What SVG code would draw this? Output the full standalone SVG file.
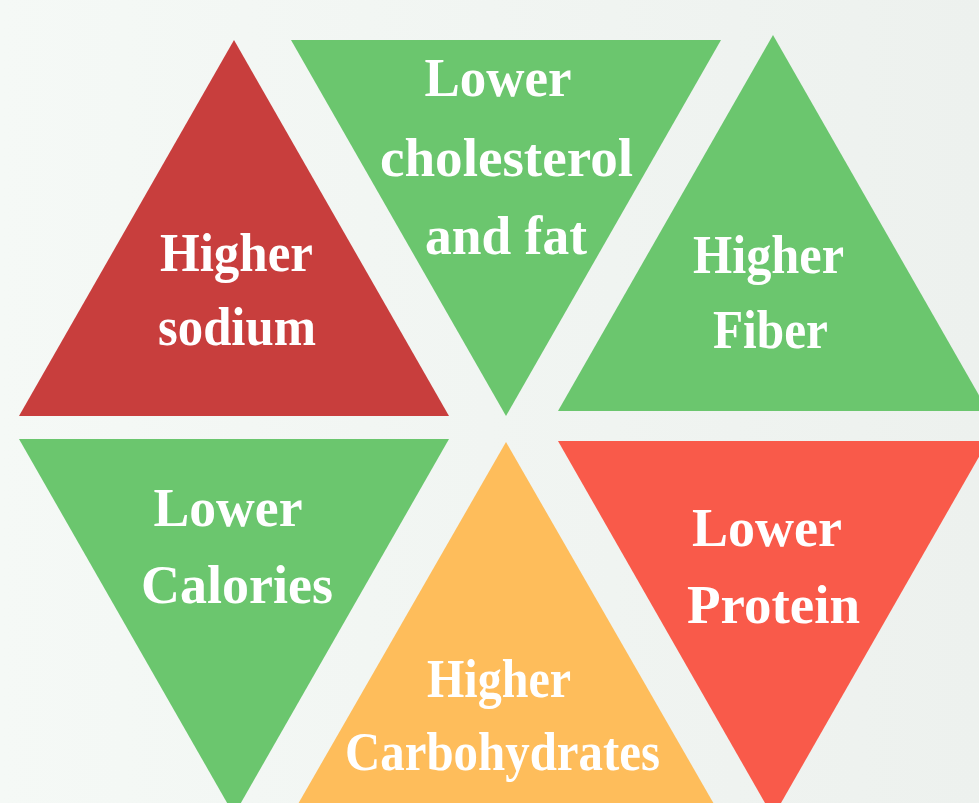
<svg xmlns="http://www.w3.org/2000/svg" width="979" height="803" viewBox="0 0 979 803">
<defs>
<linearGradient id="bg" x1="0" y1="0" x2="1" y2="0">
<stop offset="0" stop-color="#f5f9f6"/>
<stop offset="1" stop-color="#edf1ee"/>
</linearGradient>
</defs>
<style>
.t{font-family:"Liberation Serif","Times New Roman",serif;font-weight:bold;font-size:54px;fill:#ffffff;text-anchor:middle}
.red{fill:#c83e3d}.green{fill:#6bc66e}.orange{fill:#febd5b}.coral{fill:#f95a4a}
</style>
<rect x="0" y="0" width="979" height="803" fill="url(#bg)"/>
<g id="sodium">
<polygon class="red" points="234,40 449,416 19,416"/>
<text class="t" x="236.5" y="271" textLength="153" lengthAdjust="spacingAndGlyphs">Higher</text>
<text class="t" x="237" y="345" textLength="158" lengthAdjust="spacingAndGlyphs">sodium</text>
</g>
<g id="cholesterol">
<polygon class="green" points="291,40 721,40 506,416"/>
<text class="t" x="498" y="96" textLength="147" lengthAdjust="spacingAndGlyphs">Lower</text>
<text class="t" x="506.5" y="176" textLength="253" lengthAdjust="spacingAndGlyphs">cholesterol</text>
<text class="t" x="506" y="254" textLength="162" lengthAdjust="spacingAndGlyphs">and fat</text>
</g>
<g id="fiber">
<polygon class="green" points="773,35 988,411 558,411"/>
<text class="t" x="768.5" y="273" textLength="151" lengthAdjust="spacingAndGlyphs">Higher</text>
<text class="t" x="770.5" y="348" textLength="115" lengthAdjust="spacingAndGlyphs">Fiber</text>
</g>
<g id="calories">
<polygon class="green" points="19,439 449,439 234,815"/>
<text class="t" x="228" y="526" textLength="149" lengthAdjust="spacingAndGlyphs">Lower</text>
<text class="t" x="237" y="603" textLength="192" lengthAdjust="spacingAndGlyphs">Calories</text>
</g>
<g id="carbohydrates">
<polygon class="orange" points="506,442 722,818 290,818"/>
<text class="t" x="499" y="697" textLength="144" lengthAdjust="spacingAndGlyphs">Higher</text>
<text class="t" x="502.5" y="770" textLength="315" lengthAdjust="spacingAndGlyphs">Carbohydrates</text>
</g>
<g id="protein">
<polygon class="coral" points="558,441 988,441 773,817"/>
<text class="t" x="767" y="546" textLength="150" lengthAdjust="spacingAndGlyphs">Lower</text>
<text class="t" x="773.5" y="623" textLength="173" lengthAdjust="spacingAndGlyphs">Protein</text>
</g>
<g id="connectors"/>
</svg>
